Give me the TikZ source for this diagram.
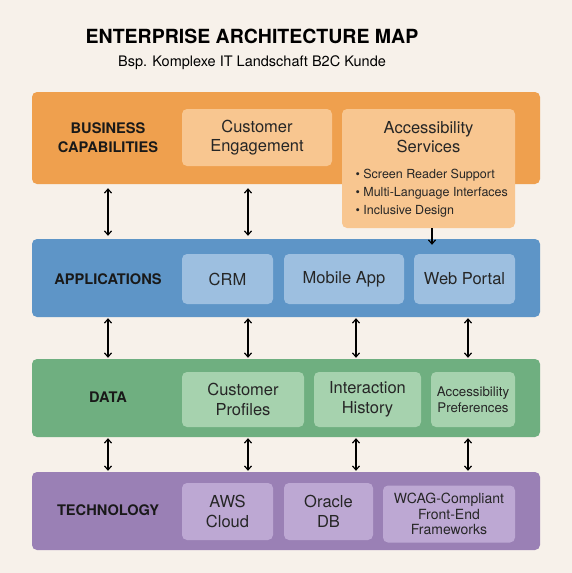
\documentclass[tikz,border=0pt]{standalone}
\usepackage{fontspec}
\setmainfont{TeX Gyre Heros}
\usetikzlibrary{arrows.meta}

\definecolor{bgcol}{HTML}{F7F1EA}
\definecolor{buscol}{HTML}{EFA04E}
\definecolor{busin}{HTML}{F8C690}
\definecolor{appcol}{HTML}{5E95C7}
\definecolor{appin}{HTML}{9DBFE0}
\definecolor{datcol}{HTML}{6FAF80}
\definecolor{datin}{HTML}{A6D2AE}
\definecolor{teccol}{HTML}{9A80B5}
\definecolor{tecin}{HTML}{BDA8D3}

\tikzset{
  layer/.style={rounded corners=5pt, inner sep=0pt, minimum width=508pt},
  item/.style={rounded corners=5pt, inner sep=0pt, align=center, font=\fontsize{16.5}{19.5}\selectfont, text=black!85},
  layerlabel/.style={align=center, font=\bfseries\fontsize{14.6}{19}\selectfont, text=black!90},
  link/.style={{Straight Barb[length=4pt,width=7pt]}-{Straight Barb[length=4pt,width=7pt]}, line width=1.2pt},
}

\begin{document}
\begin{tikzpicture}[x=1pt,y=-1pt]

% background and size
\fill[bgcol] (0,0) rectangle (572,573);
\useasboundingbox (0,0) rectangle (572,573);

\node (title) at (252,36) {\bfseries\fontsize{19.5}{24}\selectfont ENTERPRISE ARCHITECTURE MAP};
\node (subtitle) at (252,63) {\fontsize{14.5}{18}\selectfont Bsp. Komplexe IT Landschaft B2C Kunde};

% layers
\node (bus) [layer, fill=buscol, minimum height=92pt] at (286,138) {};
\node (app) [layer, fill=appcol, minimum height=78pt] at (286,278) {};
\node (dat) [layer, fill=datcol, minimum height=78pt] at (286,398) {};
\node (tec) [layer, fill=teccol, minimum height=78pt] at (286,511) {};

\node (buslabel) [layerlabel] at (108,138) {BUSINESS\\CAPABILITIES};
\node (applabel) [layerlabel] at (108,279) {APPLICATIONS};
\node (datlabel) [layerlabel] at (108,397) {DATA};
\node (teclabel) [layerlabel] at (108,510) {TECHNOLOGY};

% business capabilities
\node (eng) [item, fill=busin, minimum width=150pt, minimum height=57pt] at (257,137.5) {Customer\\Engagement};
\node (acc) [item, fill=busin, minimum width=173pt, minimum height=119pt] at (428.5,168.5) {};
\node (acctitle) [item] at (428.5,137) {Accessibility\\Services};
\node (acclist) [anchor=west, align=left, font=\fontsize{12.5}{18}\selectfont, text=black!85] at (352,193)
  {\textbullet\ Screen Reader Support\\\textbullet\ Multi-Language Interfaces\\\textbullet\ Inclusive Design};

% applications
\node (crm) [item, fill=appin, minimum width=91pt, minimum height=50pt] at (227.5,279) {CRM};
\node (mob) [item, fill=appin, minimum width=120pt, minimum height=50pt] at (344,279) {Mobile App};
\node (web) [item, fill=appin, minimum width=101pt, minimum height=50pt] at (464.5,279) {Web Portal};

% data
\node (prof) [item, fill=datin, minimum width=122pt, minimum height=55pt] at (243,399.5) {Customer\\Profiles};
\node (hist) [item, fill=datin, minimum width=107pt, minimum height=55pt] at (367.5,399.5) {Interaction\\History};
\node (pref) [item, fill=datin, minimum width=84pt, minimum height=55pt, font=\fontsize{13.3}{16.5}\selectfont] at (473,399.5) {Accessibility\\Preferences};

% technology
\node (aws) [item, fill=tecin, minimum width=91pt, minimum height=57pt] at (227.5,511.5) {AWS\\Cloud};
\node (ora) [item, fill=tecin, minimum width=89pt, minimum height=57pt] at (328.5,511.5) {Oracle\\DB};
\node (wcag) [item, fill=tecin, minimum width=132pt, minimum height=57pt, font=\fontsize{14}{15.5}\selectfont] at (449,514) {WCAG-Compliant\\Front-End\\Frameworks};

% connections
\foreach \x in {108,248}
  \draw[link, shorten <=4pt, shorten >=3pt] (bus.south -| \x,0) -- (app.north -| \x,0);
\draw[-{Straight Barb[length=4pt,width=7pt]}, line width=1.2pt, shorten >=-6pt] (acc.south -| 432,0) -- (app.north -| 432,0);
\foreach \x in {108,248,356,468}
  \draw[link, shorten <=1pt, shorten >=1pt] (app.south -| \x,0) -- (dat.north -| \x,0);
\foreach \x in {108,248,356,468}
  \draw[link, shorten <=1pt, shorten >=1pt] (dat.south -| \x,0) -- (tec.north -| \x,0);

\end{tikzpicture}
\end{document}
